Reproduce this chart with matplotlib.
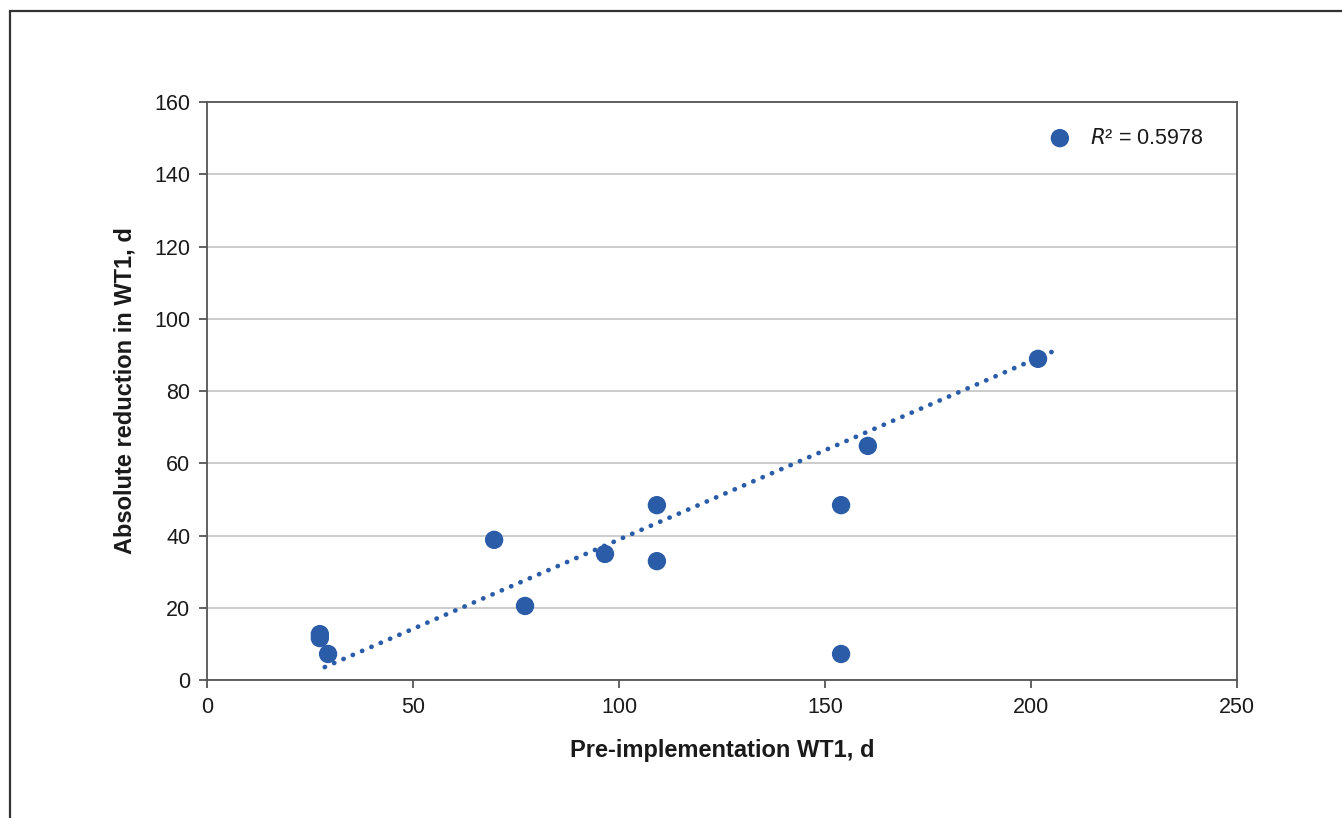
import numpy as np
import matplotlib.pyplot as plt
from matplotlib.patches import Rectangle

plt.rcParams['font.family'] = ['Liberation Sans', 'DejaVu Sans']

pre_wt1 = [27.4, 27.4, 29.4, 69.7, 77.2, 96.6, 109.2, 109.2, 153.9, 153.9, 160.4, 201.7, 207.0]
reduction = [12.7, 11.6, 7.2, 38.8, 20.5, 34.9, 48.4, 32.9, 48.4, 7.2, 64.8, 88.9, 150.0]
r2_label = "$\\mathit{R}$² = 0.5978"

blue = '#2b5ca8'

fig = plt.figure(figsize=(13.42, 8.18), dpi=100)
ax = fig.add_axes([0.1542, 0.1687, 0.7676, 0.7066])

# outer frame, cut off at right and bottom like the source
fig.patches.append(Rectangle((10 / 1342, -0.05), 1.1, 1 - 11 / 818 + 0.05,
                             transform=fig.transFigure, fill=False,
                             edgecolor='#333333', linewidth=1.6))

x = np.array(pre_wt1)
y = np.array(reduction)
slope, intercept = np.polyfit(x, y, 1)
xs = np.array([x.min() + 1.2, x.max()])
ax.plot(xs, slope * xs + intercept, color=blue, linewidth=3.4,
        linestyle=(0, (0.05, 2.1)), dash_capstyle='round', zorder=2)

ax.scatter(x, y, s=175, color=blue, edgecolors='none', zorder=3)
ax.text(x[-1] + 7.3, y[-1], r2_label, fontsize=15.5, va='center', ha='left', color='#1a1a1a')

ax.set_xlim(0, 250)
ax.set_ylim(0, 160)
ax.set_xticks(range(0, 251, 50))
ax.set_yticks(range(0, 161, 20))
ax.grid(axis='y', color='#c8c8c8', linewidth=1.3)
ax.set_axisbelow(True)
for sp in ax.spines.values():
    sp.set_color('#555555')
    sp.set_linewidth(1.3)
ax.tick_params(direction='out', length=6, width=1.3, color='#555555',
               labelsize=15.5, labelcolor='#1a1a1a', pad=6)

ax.set_xlabel('Pre-implementation WT1, d', fontsize=17, fontweight='bold', labelpad=15, color='#1a1a1a')
ax.set_ylabel('Absolute reduction in WT1, d', fontsize=17, fontweight='bold', labelpad=13, color='#1a1a1a')

fig.savefig('out.png', dpi=100)
